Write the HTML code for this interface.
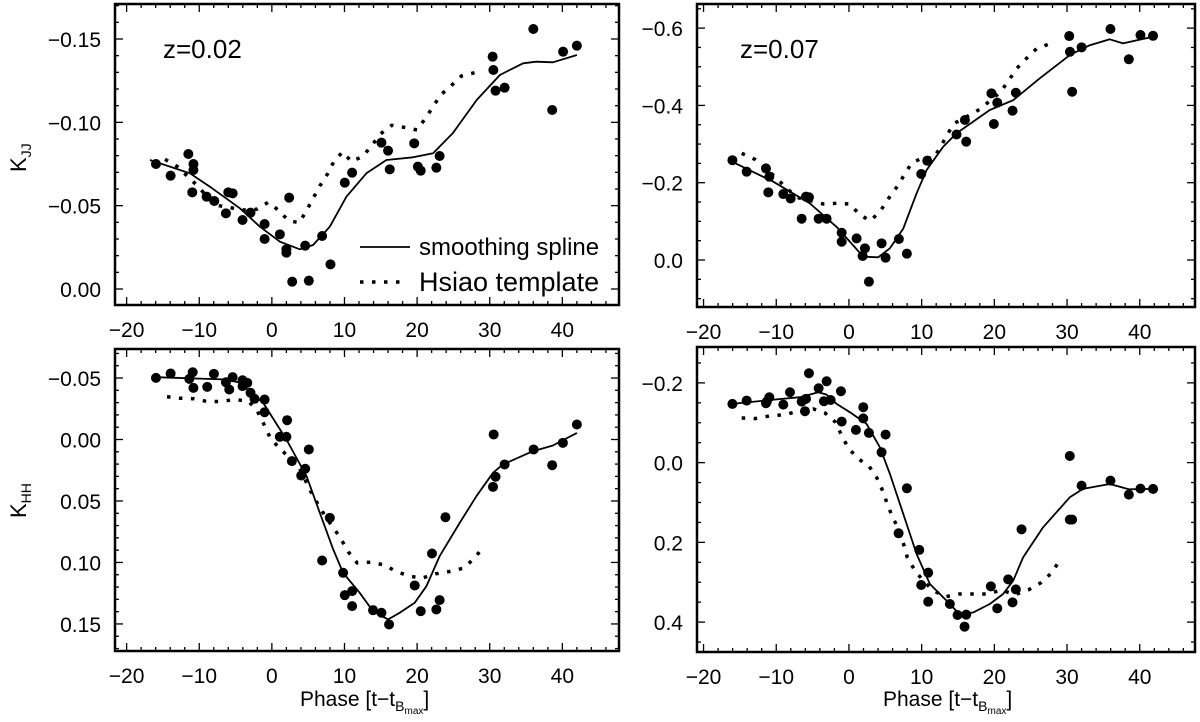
<!DOCTYPE html>
<html><head><meta charset="utf-8"><style>
html,body{margin:0;padding:0;background:#fff;}
svg{display:block;font-family:"Liberation Sans",sans-serif;}
</style></head><body>
<svg id="chart" width="1200" height="722" viewBox="0 0 1200 722" xmlns="http://www.w3.org/2000/svg"></svg>
<script>
// ---- Panel 1: K_JJ z=0.02 ----
const p1DotsX=[-15.96,-13.94,-11.5,-10.8,-10.8,-10.96,-8.99,-7.93,-6.0,-5.4,-6.33,-4.04,-2.94,-1.0,-1.0,1.1,2.0,2.0,2.38,2.8,4.59,5.09,6.92,8.07,10.04,11.05,15.09,16.0,16.23,19.6,20.1,20.5,22.65,23.1,30.4,30.5,30.8,32.05,36.0,38.6,40.1,42.0];
const p1DotsY=[-0.075,-0.068,-0.081,-0.075,-0.0714,-0.058,-0.0554,-0.0528,-0.058,-0.0574,-0.0454,-0.0414,-0.0458,-0.039,-0.030,-0.0328,-0.0238,-0.0218,-0.0548,-0.0044,-0.026,-0.005,-0.0318,-0.0148,-0.0638,-0.0698,-0.0878,-0.083,-0.0718,-0.0874,-0.0734,-0.071,-0.0728,-0.0798,-0.1394,-0.1314,-0.119,-0.1208,-0.156,-0.1074,-0.1424,-0.146];
const p1SplX=[-16.78,-11.28,-8.53,-4.4,-1.65,1.1,3.85,5.68,7.98,10.27,13.02,15.77,19.44,22.2,24.9,28.2,31.4,34.6,36.4,38.7,42.0];
const p1SplY=[-0.0774,-0.0694,-0.0614,-0.0484,-0.0374,-0.0284,-0.0238,-0.0264,-0.0374,-0.0554,-0.0694,-0.0774,-0.079,-0.0814,-0.0934,-0.1134,-0.1284,-0.1354,-0.1364,-0.136,-0.1404];
const p1HsX=[-14.72,-13.0,-10.36,-7.84,-3.94,-2.11,-0.5,1.0,2.29,3.76,4.77,5.68,6.6,7.66,8.53,9.72,11.0,12.57,13.8,14.95,16.5,18.2,20.0,21.1,22.2,23.2,24.7,26.1,27.9];
const p1HsY=[-0.0778,-0.0734,-0.0624,-0.0504,-0.0474,-0.0478,-0.052,-0.047,-0.041,-0.0398,-0.047,-0.0544,-0.0618,-0.069,-0.0764,-0.0822,-0.0764,-0.0798,-0.0864,-0.093,-0.0982,-0.097,-0.0954,-0.1022,-0.1094,-0.1162,-0.122,-0.1278,-0.1298];
const p1YTicks=[-0.15,-0.10,-0.05,0.00];
const p1YLabels=["\u22120.15","\u22120.10","\u22120.05","0.00"];

// ---- Panel 2: K_JJ z=0.07 ----
const p2DotsX=[-16.03,-14.07,-11.41,-10.95,-11.09,-9.03,-8.02,-5.91,-5.5,-6.5,-4.17,-3.07,-1.0,-1.0,1.05,1.88,2.2,2.75,4.49,5.04,6.87,7.97,9.94,10.77,14.8,15.95,16.13,19.6,20.4,19.93,22.5,22.96,30.3,30.4,30.7,32.0,35.97,38.5,40.1,41.83];
const p2DotsY=[-0.2582,-0.2286,-0.2370,-0.2156,-0.1751,-0.1707,-0.1593,-0.1639,-0.1624,-0.1069,-0.1069,-0.1069,-0.0705,-0.0473,-0.0560,-0.0103,-0.0302,0.0561,-0.0431,-0.0060,-0.0544,-0.0164,-0.2225,-0.2570,-0.3248,-0.3622,-0.3062,-0.4313,-0.4071,-0.3519,-0.3864,-0.4328,-0.5795,-0.5387,-0.4354,-0.5503,-0.5977,-0.5193,-0.5821,-0.5801];
const p2SplX=[-16.03,-10.4,-5.36,-1.7,1.97,4.03,5.64,7.47,9.3,10.68,12.97,14.8,19.38,22.6,26.25,30.4,33.13,35.88,37.7,41.83];
const p2SplY=[-0.2542,-0.2027,-0.1462,-0.0857,-0.0086,-0.0070,-0.0302,-0.0816,-0.1725,-0.2330,-0.2931,-0.3279,-0.3881,-0.4136,-0.4701,-0.5307,-0.5559,-0.5710,-0.5605,-0.5778];
const p2HsX=[-14.75,-12.92,-10.17,-8.7,-7.19,-3.53,-1.7,0.14,1.51,2.98,4.35,5.45,6.55,7.6,8.61,10.22,11.6,12.6,13.5,14.5,16.2,17.97,20.85,22.0,23.05,24.4,25.8,27.4];
const p2HsY=[-0.2760,-0.2602,-0.2156,-0.1880,-0.1622,-0.1449,-0.1466,-0.1449,-0.1165,-0.1018,-0.1277,-0.1593,-0.1880,-0.2199,-0.2502,-0.2656,-0.2631,-0.2915,-0.3242,-0.3536,-0.3708,-0.3898,-0.4346,-0.4649,-0.4951,-0.5210,-0.5468,-0.5579];
const p2YTicks=[-0.6,-0.4,-0.2,0.0];
const p2YLabels=["\u22120.6","\u22120.4","\u22120.2","0.0"];

// ---- Panel 3: K_HH z=0.02 ----
const p3DotsX=[-15.96,-13.94,-10.9,-11.37,-10.8,-8.9,-7.98,-6.33,-5.87,-5.4,-4.04,-3.39,-4.04,-2.94,-2.39,-1.0,-1.0,1.1,2.0,2.1,2.75,4.04,4.59,5.09,6.92,7.98,9.81,10.04,11.05,11.05,13.93,15.09,16.14,19.67,20.5,22.05,22.65,23.1,23.9,30.54,30.45,30.8,32.05,36.04,38.6,40.07,42.0];
const p3DotsY=[-0.0501,-0.0537,-0.0547,-0.0493,-0.042,-0.0428,-0.0534,-0.0466,-0.0407,-0.0507,-0.0482,-0.0461,-0.0434,-0.038,-0.0331,-0.0325,-0.0222,-0.0022,-0.0022,-0.0157,0.0176,0.0293,0.0238,0.0081,0.0984,0.0637,0.1084,0.1266,0.1233,0.1355,0.1388,0.1409,0.1504,0.1187,0.1396,0.0927,0.1382,0.1306,0.0632,-0.0041,0.0385,0.0303,0.0203,0.0081,0.0209,0.0027,-0.0122];
const p3SplX=[-15.96,-6.24,-4.4,-1.19,2.0,4.77,6.6,8.44,9.81,12.1,13.93,16.0,17.6,19.67,21.28,23.1,25.86,28.16,30.45,31.8,35.94,38.7,42.0];
const p3SplY=[-0.0507,-0.0488,-0.0461,-0.0298,0,0.0298,0.0596,0.0894,0.1084,0.1247,0.1396,0.1463,0.1409,0.1328,0.1193,0.0949,0.0678,0.0461,0.0271,0.0203,0.0095,0.0049,-0.0054];
const p3HsX=[-14.44,-12.65,-10.73,-8.9,-7.06,-5.09,-3.26,-2.11,-1.19,-0.28,0.96,2.48,3.85,5.32,6.37,7.52,8.57,9.63,10.55,11.73,13.57,15.4,17.06,18.89,20.67,22.56,24.58,26.41,27.88,29.07];
const p3HsY=[-0.0347,-0.0336,-0.0331,-0.0309,-0.0309,-0.0325,-0.0312,-0.0244,-0.0136,-0.0022,0.0068,0.0149,0.0238,0.042,0.0528,0.0642,0.0724,0.0821,0.0916,0.1003,0.0998,0.1019,0.1071,0.1111,0.1127,0.1092,0.1073,0.1046,0.0965,0.0878];
const p3YTicks=[-0.05,0.00,0.05,0.10,0.15];
const p3YLabels=["\u22120.05","0.00","0.05","0.10","0.15"];

// ---- Panel 4: K_HH z=0.07 ----
const p4DotsX=[-16.03,-14.07,-11.41,-10.95,-11.3,-9.03,-8.11,-6.5,-5.91,-6.05,-5.5,-4.17,-3.44,-3.07,-2.52,-1.1,-1.0,0.96,1.97,1.97,2.75,4.49,5.04,6.83,7.97,9.67,9.94,10.9,10.9,13.88,14.94,16.13,15.9,19.52,20.4,21.9,22.96,22.5,23.74,30.38,30.38,30.7,32.0,35.97,38.5,40.1,41.83];
const p4DotsY=[-0.1472,-0.1556,-0.1489,-0.164,-0.153,-0.1455,-0.1765,-0.153,-0.16,-0.129,-0.2242,-0.1866,-0.154,-0.204,-0.157,-0.179,-0.1029,-0.082,-0.139,-0.111,-0.0745,-0.0259,-0.0703,0.1773,0.0644,0.219,0.307,0.276,0.3488,0.3546,0.3822,0.3814,0.4115,0.3103,0.3655,0.2928,0.318,0.3505,0.1673,-0.0167,0.143,0.143,0.0577,0.0452,0.0803,0.0652,0.066];
const p4SplX=[-16.03,-10.86,-6.74,-4.21,-3.07,-1.7,0.14,2.43,4.26,5.64,7.47,9.3,11.13,13.88,15.26,17.1,19.38,21.2,22.59,23.96,26.7,30.38,32.2,35.88,38.5,41.83];
const p4SplY=[-0.1472,-0.157,-0.164,-0.1765,-0.1707,-0.1472,-0.1263,-0.097,-0.0385,0.0284,0.1288,0.2291,0.3044,0.3546,0.3814,0.3756,0.3546,0.3295,0.2961,0.2376,0.1623,0.0871,0.066,0.0535,0.067,0.066];
const p4HsX=[-14.75,-12.92,-10.86,-8.8,-6.97,-4.9,-3.3,-1.83,-1.0,-0.09,1.15,2.8,3.8,4.63,5.27,6.1,7.0,8.02,9.03,10.22,11.6,13.33,15.17,17.1,19.07,21.0,22.8,24.65,26.35,27.72,28.83];
const p4HsY=[-0.112,-0.1104,-0.1172,-0.1205,-0.129,-0.1347,-0.1247,-0.1012,-0.0678,-0.0368,-0.0117,0.01,0.0368,0.0703,0.1037,0.1414,0.1707,0.2376,0.2694,0.2961,0.3212,0.3363,0.3296,0.3296,0.3296,0.3195,0.3312,0.3195,0.302,0.2794,0.2502];
const p4YTicks=[-0.2,0.0,0.2,0.4];
const p4YLabels=["\u22120.2","0.0","0.2","0.4"];

const xTicks=[-20,-10,0,10,20,30,40];
const xLabels=["\u221220","\u221210","0","10","20","30","40"];

const NS="http://www.w3.org/2000/svg";
const svg=document.getElementById('chart');
function mk(tag,attrs,parent){const e=document.createElementNS(NS,tag);for(const k in attrs)e.setAttribute(k,attrs[k]);(parent||svg).appendChild(e);return e;}

function panel(cfg){
  const g=mk('g',{});
  
  
  const L=cfg.box[0],T=cfg.box[1],R=cfg.box[2],B=cfg.box[3];
  const sx=v=>L+(v-cfg.xd[0])/(cfg.xd[1]-cfg.xd[0])*(R-L);
  const sy=v=>T+(v-cfg.yd[0])/(cfg.yd[1]-cfg.yd[0])*(B-T);
  for(let v=-20;v<=46;v+=2){
    const maj=(v%10===0);const len=maj?8:4;const x=sx(v);
    const t1=mk('line',{x1:x,x2:x,y1:B,y2:B-len,stroke:'#000','stroke-width':1.3},g);
    
    const t2=mk('line',{x1:x,x2:x,y1:T,y2:T+len,stroke:'#000','stroke-width':1.3},g);
    
  }
  xTicks.forEach((v,i)=>{
    const t=mk('text',{x:sx(v),y:B+32,'font-size':21,'text-anchor':'middle',fill:'#000'},g);
    t.textContent=xLabels[i];
    
  });
  const lo=Math.ceil(Math.min(cfg.yd[0],cfg.yd[1])/cfg.minor-1e-6),hi=Math.floor(Math.max(cfg.yd[0],cfg.yd[1])/cfg.minor+1e-6);
  for(let k=lo;k<=hi;k++){
    const v=k*cfg.minor;const r=v/cfg.major;const maj=Math.abs(r-Math.round(r))<1e-6;const len=maj?8:4;const y=sy(v);
    const t1=mk('line',{x1:L,x2:L+len,y1:y,y2:y,stroke:'#000','stroke-width':1.3},g);
    
    const t2=mk('line',{x1:R,x2:R-len,y1:y,y2:y,stroke:'#000','stroke-width':1.3},g);
    
  }
  cfg.yt.forEach((v,i)=>{
    const t=mk('text',{x:L-14,y:sy(v)+8,'font-size':21,'text-anchor':'end',fill:'#000'},g);
    t.textContent=cfg.yl[i];
    
  });
  const hp=cfg.hx.map((x,i)=>sx(x).toFixed(1)+','+sy(cfg.hy[i]).toFixed(1)).join(' ');
  const h=mk('polyline',{points:hp,fill:'none',stroke:'#000','stroke-width':3.5,'stroke-dasharray':'3.5 8.5'},g);
  
  const sp=cfg.sxs.map((x,i)=>sx(x).toFixed(1)+','+sy(cfg.sys[i]).toFixed(1)).join(' ');
  const s=mk('polyline',{points:sp,fill:'none',stroke:'#000','stroke-width':1.8,'stroke-linejoin':'round'},g);
  
  cfg.dx.forEach((x,i)=>{
    const c=mk('circle',{cx:sx(x),cy:sy(cfg.dy[i]),r:5,fill:'#000'},g);
    
  });
  const fr=mk('rect',{x:L,y:T,width:R-L,height:B-T,fill:'none',stroke:'#000','stroke-width':2.5},g);
  
  return {sx,sy};
}

panel({name:'panel-kjj-z002',box:[115,4,619,305],xd:[-21.6,47.8],yd:[-0.171,0.0096],minor:0.01,major:0.05,yt:p1YTicks,yl:p1YLabels,dx:p1DotsX,dy:p1DotsY,sxs:p1SplX,sys:p1SplY,hx:p1HsX,hy:p1HsY});
panel({name:'panel-kjj-z007',box:[697,4,1195,307],xd:[-20.9,47.6],yd:[-0.6624,0.1216],minor:0.05,major:0.2,yt:p2YTicks,yl:p2YLabels,dx:p2DotsX,dy:p2DotsY,sxs:p2SplX,sys:p2SplY,hx:p2HsX,hy:p2HsY});
panel({name:'panel-khh-z002',box:[115,349,619,651],xd:[-21.6,47.8],yd:[-0.0736,0.172],minor:0.01,major:0.05,yt:p3YTicks,yl:p3YLabels,dx:p3DotsX,dy:p3DotsY,sxs:p3SplX,sys:p3SplY,hx:p3HsX,hy:p3HsY});
panel({name:'panel-khh-z007',box:[697,347,1195,652],xd:[-20.9,47.6],yd:[-0.29,0.475],minor:0.05,major:0.2,yt:p4YTicks,yl:p4YLabels,dx:p4DotsX,dy:p4DotsY,sxs:p4SplX,sys:p4SplY,hx:p4HsX,hy:p4HsY});

function txt(x,y,s,size,name,extra){const t=mk('text',Object.assign({x:x,y:y,'font-size':size,fill:'#000'},extra||{}));t.textContent=s;return t;}
txt(163,58,'z=0.02',26,'redshift-label-z002');
txt(740,58,'z=0.07',26,'redshift-label-z007');
const l1=mk('line',{x1:360,x2:410,y1:247,y2:247,stroke:'#000','stroke-width':1.8});

txt(419,255,'smoothing spline',24,'legend-spline-label');
const l2=mk('line',{x1:360,x2:408,y1:282,y2:282,stroke:'#000','stroke-width':3.5,'stroke-dasharray':'3.5 8.5'});

txt(419,291,'Hsiao template',27,'legend-hsiao-label');
const y1=txt(0,0,'',22,'y-axis-title-kjj',{transform:'translate(26,172) rotate(-90)'});
y1.innerHTML='K<tspan font-size="14" dy="5">JJ</tspan>';
const y2=txt(0,0,'',22,'y-axis-title-khh',{transform:'translate(26,518) rotate(-90)'});
y2.innerHTML='K<tspan font-size="14" dy="5">HH</tspan>';
[300,883].forEach((x,i)=>{
  const t=txt(x,706,'',21,'x-axis-title');
  t.innerHTML='Phase [t\u2212t<tspan font-size="14" dy="5">B</tspan><tspan font-size="10" dy="3">max</tspan><tspan dy="-8">]</tspan>';
});
</script>
</body></html>
